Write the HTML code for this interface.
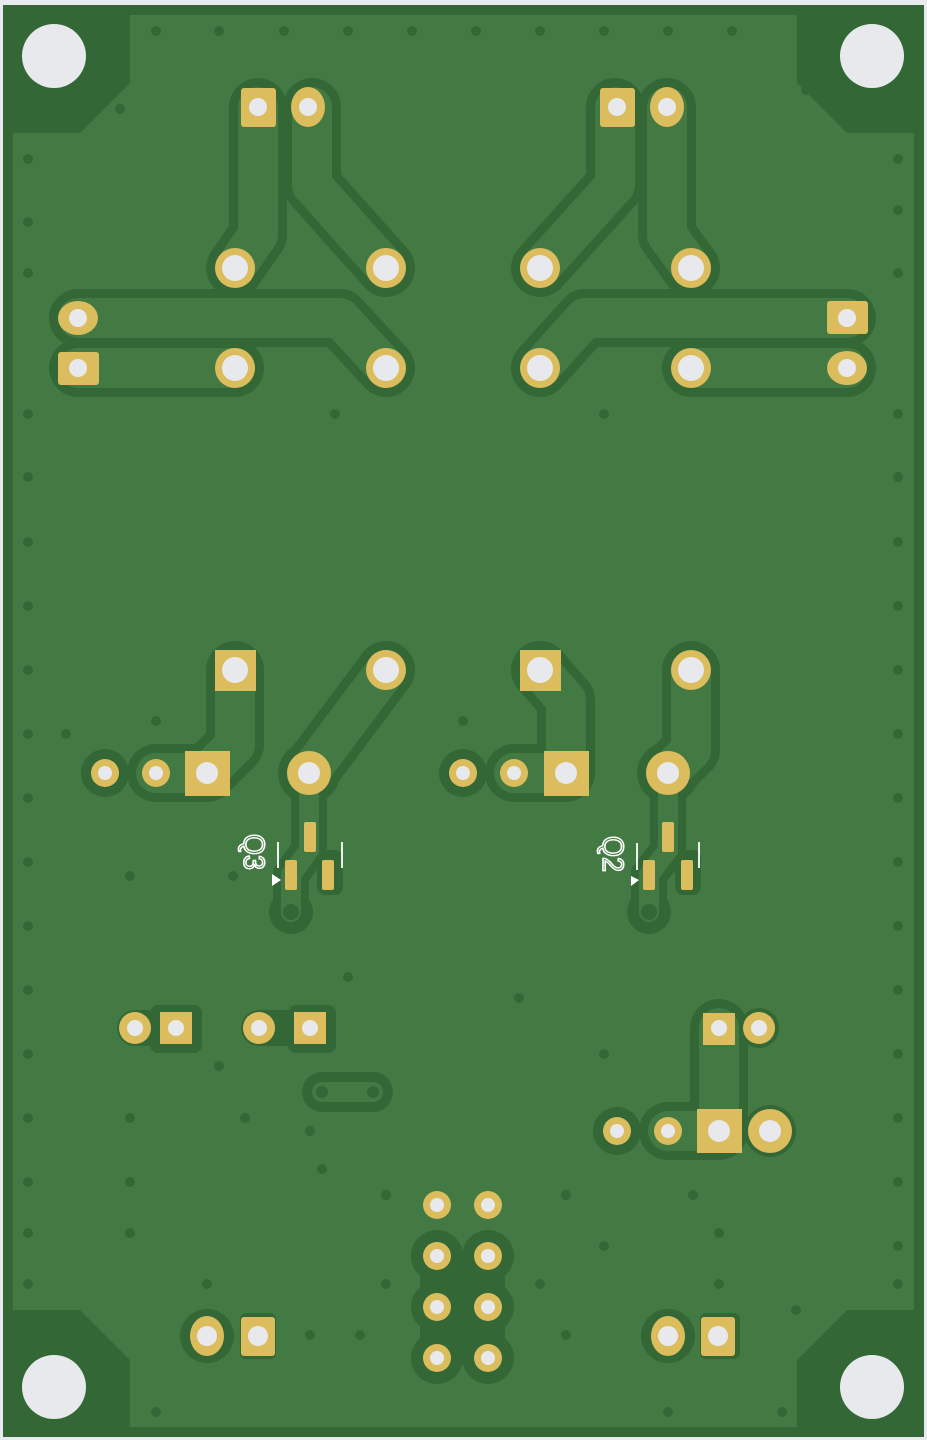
<!DOCTYPE html>
<html><head><meta charset="utf-8"><style>
html,body{margin:0;padding:0;background:#e8eaed;}
svg{display:block}
</style></head><body>
<svg width="927" height="1440" viewBox="0 0 927 1440" xmlns="http://www.w3.org/2000/svg">
<rect x="0" y="0" width="927" height="1440" fill="#e8eaed"/>
<rect x="3" y="5" width="921" height="1432" fill="#336836"/>
<path d="M130,15 L797,15 L797,83 L847,133 L914,133 L914,1310 L847,1310 L797,1360 L797,1427 L130,1427 L130,1360 L80,1310 L13,1310 L13,133 L80,133 L130,83 Z" fill="#437a43"/>
<g fill="#e8e9ec">
<circle cx="54" cy="56" r="32"/><circle cx="872" cy="56" r="32"/>
<circle cx="54" cy="1387" r="32"/><circle cx="872" cy="1387" r="32"/>
</g>
<!-- vias -->
<g fill="#336836">
<circle cx="156" cy="31" r="5"/><circle cx="219" cy="31" r="5"/><circle cx="284" cy="31" r="5"/><circle cx="348" cy="31" r="5"/><circle cx="412" cy="31" r="5"/><circle cx="476" cy="31" r="5"/><circle cx="540" cy="31" r="5"/><circle cx="604" cy="31" r="5"/><circle cx="668" cy="31" r="5"/><circle cx="732" cy="31" r="5"/>
<circle cx="120" cy="109" r="5"/><circle cx="806" cy="90" r="5"/>
<circle cx="156" cy="1412" r="5"/><circle cx="668" cy="1412" r="5"/><circle cx="782" cy="1412" r="5"/>
<circle cx="28" cy="159" r="5"/><circle cx="28" cy="222" r="5"/><circle cx="28" cy="273" r="5"/><circle cx="28" cy="414" r="5"/><circle cx="28" cy="477" r="5"/><circle cx="28" cy="542" r="5"/><circle cx="28" cy="606" r="5"/><circle cx="28" cy="670" r="5"/><circle cx="28" cy="734" r="5"/><circle cx="28" cy="798" r="5"/><circle cx="28" cy="862" r="5"/><circle cx="28" cy="926" r="5"/><circle cx="28" cy="990" r="5"/><circle cx="28" cy="1054" r="5"/><circle cx="28" cy="1118" r="5"/><circle cx="28" cy="1182" r="5"/><circle cx="28" cy="1233" r="5"/><circle cx="28" cy="1284" r="5"/>
<circle cx="898" cy="159" r="5"/><circle cx="898" cy="210" r="5"/><circle cx="898" cy="273" r="5"/><circle cx="898" cy="414" r="5"/><circle cx="898" cy="477" r="5"/><circle cx="898" cy="542" r="5"/><circle cx="898" cy="606" r="5"/><circle cx="898" cy="670" r="5"/><circle cx="898" cy="734" r="5"/><circle cx="898" cy="798" r="5"/><circle cx="898" cy="862" r="5"/><circle cx="898" cy="926" r="5"/><circle cx="898" cy="990" r="5"/><circle cx="898" cy="1054" r="5"/><circle cx="898" cy="1118" r="5"/><circle cx="898" cy="1182" r="5"/><circle cx="898" cy="1246" r="5"/><circle cx="898" cy="1284" r="5"/>
<circle cx="335" cy="414" r="5"/><circle cx="604" cy="414" r="5"/>
<circle cx="66" cy="734" r="5"/><circle cx="156" cy="721" r="5"/><circle cx="463" cy="721" r="5"/>
<circle cx="130" cy="876" r="5"/><circle cx="233" cy="876" r="5"/><circle cx="348" cy="977" r="5"/><circle cx="519" cy="998" r="5"/>
<circle cx="219" cy="1066" r="5"/><circle cx="604" cy="1054" r="5"/><circle cx="130" cy="1118" r="5"/><circle cx="245" cy="1118" r="5"/><circle cx="310" cy="1131" r="5"/><circle cx="322" cy="1169" r="5"/>
<circle cx="130" cy="1182" r="5"/><circle cx="130" cy="1233" r="5"/><circle cx="386" cy="1195" r="5"/><circle cx="566" cy="1195" r="5"/><circle cx="693" cy="1195" r="5"/><circle cx="604" cy="1246" r="5"/><circle cx="719" cy="1233" r="5"/><circle cx="540" cy="1284" r="5"/><circle cx="386" cy="1284" r="5"/><circle cx="207" cy="1284" r="5"/><circle cx="719" cy="1284" r="5"/><circle cx="796" cy="1310" r="5"/><circle cx="310" cy="1335" r="5"/><circle cx="360" cy="1335" r="5"/><circle cx="566" cy="1335" r="5"/>
</g>
<!-- clearance layer -->
<g stroke="#336836" fill="none" stroke-linecap="round" stroke-linejoin="round" stroke-width="58">
<path d="M258,107 L258,235 L235,268"/>
<path d="M312,107 L312,185 L386,268"/>
<path d="M78,318 L340,318 L386,368"/>
<path d="M78,368 L235,368"/>
<path d="M615,107 L615,185 L540,268"/>
<path d="M667,107 L667,235 L691,268"/>
<path d="M847,318 L585,318 L540,368"/>
<path d="M691,368 L847,368"/>
<path d="M235,670 L235,745 L207,773 L156,773"/>
<path d="M386,670 L309,773"/>
<path d="M540,670 L566,700 L566,773 L514,773"/>
<path d="M691,670 L691,750 L668,773"/>
<path d="M719,1028 L719,1131 L668,1131"/>
</g>
<g stroke="#336836" fill="none" stroke-linecap="round" stroke-width="36">
<path d="M309,773 L309,850 L291,875 L291,912"/>
<path d="M668,773 L668,850 L649,875 L649,912"/>
<path d="M135,1028 L176,1028"/><path d="M259,1028 L310,1028"/>
</g>
<path d="M322,1092 L373,1092" stroke="#336836" stroke-width="40" stroke-linecap="round"/>
<g fill="#336836">
<circle cx="105" cy="773" r="24"/><circle cx="309" cy="773" r="31"/><circle cx="668" cy="773" r="31"/><circle cx="463" cy="773" r="24"/>
<circle cx="617" cy="1131" r="24"/><circle cx="770" cy="1131" r="26"/><circle cx="759" cy="1028" r="20"/>
<circle cx="207" cy="1336" r="27"/><circle cx="668" cy="1336" r="27"/>
<rect x="240" y="1313" width="36" height="46" rx="6"/><rect x="700" y="1313" width="40" height="46" rx="6"/>
<rect x="150" y="1005" width="52" height="48" rx="8"/><rect x="288" y="1005" width="48" height="48" rx="8"/>
<circle cx="291" cy="912" r="22"/><circle cx="649" cy="912" r="22"/>
<rect x="317" y="850" width="26" height="45" rx="8"/><rect x="675" y="850" width="26" height="45" rx="8"/>
<circle cx="437" cy="1256" r="26"/><circle cx="488" cy="1256" r="26"/><circle cx="437" cy="1307" r="26"/><circle cx="488" cy="1307" r="26"/><circle cx="437" cy="1358" r="26"/><circle cx="488" cy="1358" r="26"/>
<rect x="437" y="1256" width="51" height="102"/>
<rect x="420" y="1270" width="85" height="74"/>
</g>
<!-- copper fill layer -->
<g stroke="#437a43" fill="none" stroke-linecap="round" stroke-linejoin="round" stroke-width="40">
<path d="M258,107 L258,235 L235,268"/>
<path d="M312,107 L312,185 L386,268"/>
<path d="M78,318 L340,318 L386,368"/>
<path d="M78,368 L235,368"/>
<path d="M615,107 L615,185 L540,268"/>
<path d="M667,107 L667,235 L691,268"/>
<path d="M847,318 L585,318 L540,368"/>
<path d="M691,368 L847,368"/>
<path d="M235,670 L235,745 L207,773 L156,773"/>
<path d="M386,670 L309,773"/>
<path d="M540,670 L566,700 L566,773 L514,773"/>
<path d="M691,670 L691,750 L668,773"/>
<path d="M719,1028 L719,1131 L668,1131"/>
</g>
<g stroke="#437a43" fill="none" stroke-linecap="round" stroke-width="20">
<path d="M309,773 L309,850 L291,875 L291,912"/>
<path d="M668,773 L668,850 L649,875 L649,912"/>
<path d="M322,1092 L373,1092"/>
</g>
<circle cx="291" cy="912" r="8" fill="#336836"/><circle cx="649" cy="912" r="8" fill="#336836"/>
<circle cx="322" cy="1092" r="6" fill="#336836"/><circle cx="373" cy="1092" r="6" fill="#336836"/>
<!-- pads -->
<g fill="#dcbd5d">
<rect x="241" y="88" width="35" height="39" rx="3"/><ellipse cx="308" cy="107" rx="17" ry="20"/>
<rect x="600" y="88" width="35" height="39" rx="3"/><ellipse cx="667" cy="107" rx="17" ry="20"/>
<circle cx="235" cy="268" r="20"/><circle cx="386" cy="268" r="20"/><circle cx="540" cy="268" r="20"/><circle cx="691" cy="268" r="20"/>
<ellipse cx="78" cy="318" rx="20" ry="17"/><rect x="58" y="352" width="41" height="33" rx="3"/>
<rect x="827" y="301" width="41" height="33" rx="3"/><ellipse cx="847" cy="368" rx="20" ry="17"/>
<circle cx="235" cy="368" r="20"/><circle cx="386" cy="368" r="20"/><circle cx="540" cy="368" r="20"/><circle cx="691" cy="368" r="20"/>
<rect x="215" y="650" width="41" height="41"/><circle cx="386" cy="670" r="20"/>
<rect x="520" y="650" width="41" height="41"/><circle cx="691" cy="670" r="20"/>
<circle cx="105" cy="773" r="14"/><circle cx="156" cy="773" r="14"/><rect x="185" y="751" width="45" height="45"/><circle cx="309" cy="773" r="22"/>
<circle cx="463" cy="773" r="14"/><circle cx="514" cy="773" r="14"/><rect x="544" y="751" width="45" height="45"/><circle cx="668" cy="773" r="22"/>
<rect x="304" y="822" width="12" height="30" rx="2"/><rect x="285" y="860" width="12" height="30" rx="2"/><rect x="322" y="860" width="12" height="30" rx="2"/>
<rect x="662" y="822" width="12" height="30" rx="2"/><rect x="643" y="860" width="12" height="30" rx="2"/><rect x="681" y="860" width="12" height="30" rx="2"/>
<circle cx="135" cy="1028" r="16"/><rect x="160" y="1012" width="32" height="32"/>
<circle cx="259" cy="1028" r="16"/><rect x="294" y="1012" width="32" height="32"/>
<rect x="703" y="1013" width="32" height="32"/><circle cx="759" cy="1028" r="16"/>
<circle cx="617" cy="1131" r="14"/><circle cx="668" cy="1131" r="14"/><rect x="697" y="1109" width="45" height="44"/><circle cx="770" cy="1131" r="22"/>
<circle cx="437" cy="1205" r="14"/><circle cx="488" cy="1205" r="14"/>
<circle cx="437" cy="1256" r="14"/><circle cx="488" cy="1256" r="14"/>
<circle cx="437" cy="1307" r="14"/><circle cx="488" cy="1307" r="14"/>
<circle cx="437" cy="1358" r="14"/><circle cx="488" cy="1358" r="14"/>
<ellipse cx="207" cy="1336" rx="17" ry="20"/><rect x="241" y="1317" width="34" height="39" rx="3"/>
<ellipse cx="668" cy="1336" rx="17" ry="20"/><rect x="701" y="1317" width="34" height="39" rx="3"/>
</g>
<!-- holes -->
<g fill="#e8e9ec">
<circle cx="258" cy="107" r="9"/><circle cx="308" cy="107" r="9"/><circle cx="617" cy="107" r="9"/><circle cx="667" cy="107" r="9"/>
<circle cx="235" cy="268" r="13"/><circle cx="386" cy="268" r="13"/><circle cx="540" cy="268" r="13"/><circle cx="691" cy="268" r="13"/>
<circle cx="78" cy="318" r="9"/><circle cx="78" cy="368" r="9"/><circle cx="847" cy="318" r="9"/><circle cx="847" cy="368" r="9"/>
<circle cx="235" cy="368" r="13"/><circle cx="386" cy="368" r="13"/><circle cx="540" cy="368" r="13"/><circle cx="691" cy="368" r="13"/>
<circle cx="235" cy="670" r="13"/><circle cx="386" cy="670" r="13"/><circle cx="540" cy="670" r="13"/><circle cx="691" cy="670" r="13"/>
<circle cx="105" cy="773" r="7"/><circle cx="156" cy="773" r="7"/><circle cx="207" cy="773" r="11"/><circle cx="309" cy="773" r="11"/>
<circle cx="463" cy="773" r="7"/><circle cx="514" cy="773" r="7"/><circle cx="566" cy="773" r="11"/><circle cx="668" cy="773" r="11"/>
<circle cx="135" cy="1028" r="8"/><circle cx="176" cy="1028" r="8"/><circle cx="259" cy="1028" r="8"/><circle cx="310" cy="1028" r="8"/>
<circle cx="719" cy="1028" r="8"/><circle cx="759" cy="1028" r="8"/>
<circle cx="617" cy="1131" r="7"/><circle cx="668" cy="1131" r="7"/><circle cx="719" cy="1131" r="11"/><circle cx="770" cy="1131" r="11"/>
<circle cx="437" cy="1205" r="7"/><circle cx="488" cy="1205" r="7"/><circle cx="437" cy="1256" r="7"/><circle cx="488" cy="1256" r="7"/>
<circle cx="437" cy="1307" r="7"/><circle cx="488" cy="1307" r="7"/><circle cx="437" cy="1358" r="7"/><circle cx="488" cy="1358" r="7"/>
<circle cx="207" cy="1336" r="10"/><circle cx="258" cy="1336" r="10"/><circle cx="668" cy="1336" r="10"/><circle cx="718" cy="1336" r="10"/>
</g>
<!-- silkscreen -->
<g stroke="#ffffff" stroke-width="1.8" fill="none">
<path d="M278,842 L278,868"/><path d="M342,842 L342,868"/>
<path d="M637,843 L637,870"/><path d="M699,842 L699,868"/>
</g>
<g fill="#ffffff">
<path d="M272,874 L281,880 L272,886 Z"/><path d="M631,876 L639,880 L631,886 Z"/>
</g>
<text x="0" y="0" transform="translate(244,834) rotate(90)" font-family="Liberation Sans, sans-serif" font-size="30" textLength="36" lengthAdjust="spacingAndGlyphs" fill="none" stroke="#ffffff" stroke-width="1.6">Q3</text>
<text x="0" y="0" transform="translate(603,836) rotate(90)" font-family="Liberation Sans, sans-serif" font-size="30" textLength="36" lengthAdjust="spacingAndGlyphs" fill="none" stroke="#ffffff" stroke-width="1.6">Q2</text>
</svg>
</body></html>
